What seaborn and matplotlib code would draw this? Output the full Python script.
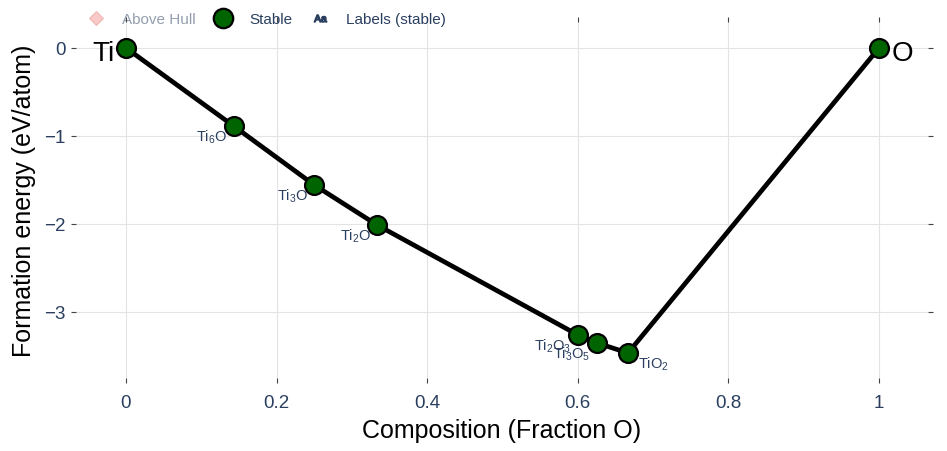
import numpy as np
import pandas as pd
import matplotlib
matplotlib.use("Agg")
import matplotlib.pyplot as plt
import seaborn as sns
from matplotlib.lines import Line2D

# Convex hull points (Ti-O)
frac_o = [0.0, 1 / 7, 0.25, 1 / 3, 0.6, 0.625, 2 / 3, 1.0]
e_form = [0.0, -0.886, -1.557, -2.011, -3.26, -3.35, -3.466, 0.0]
names = ["Ti", "Ti$_6$O", "Ti$_3$O", "Ti$_2$O", "Ti$_2$O$_3$", "Ti$_3$O$_5$", "TiO$_2$", "O"]
# "Above Hull" trace is hidden (legend only)
above_x = []
above_y = []

x_ticks = [0, 0.2, 0.4, 0.6, 0.8, 1]
x_ticklabels = ["0", "0.2", "0.4", "0.6", "0.8", "1"]
y_ticks = [0, -1, -2, -3]
y_ticklabels = ["0", "\u22121", "\u22122", "\u22123"]

df = pd.DataFrame({"x": frac_o, "y": e_form, "name": names})

sns.set_theme(style="white")
plt.rcParams["font.family"] = ["Liberation Sans", "DejaVu Sans"]
plt.rcParams["mathtext.fontset"] = "custom"
plt.rcParams["mathtext.rm"] = "Liberation Sans"
plt.rcParams["mathtext.it"] = "Liberation Sans:italic"

tick_col = "#2a3f5f"
green = "#006400"

fig = plt.figure(figsize=(9.47, 4.52), dpi=100)
ax = fig.add_axes([76 / 947, 1 - 379 / 452, (928 - 76) / 947, (379 - 23) / 452])

ax.grid(True, color="#e3e3e3", linewidth=0.8)
ax.set_axisbelow(True)

sns.lineplot(data=df, x="x", y="y", sort=False, color="black", linewidth=3.4, ax=ax, zorder=3)
sns.scatterplot(data=df, x="x", y="y", color=green, edgecolor="black", linewidth=1.6,
                s=185, ax=ax, zorder=4, legend=False)

# compound labels
for i, row in df.iterrows():
    if row["name"] == "Ti":
        ax.annotate(row["name"], (row["x"], row["y"]), xytext=(-8, -3.5), textcoords="offset points",
                    ha="right", va="center", fontsize=20, color="black")
    elif row["name"] == "O":
        ax.annotate(row["name"], (row["x"], row["y"]), xytext=(9, -3.5), textcoords="offset points",
                    ha="left", va="center", fontsize=20, color="black")
    elif row["name"] == "TiO$_2$":
        ax.annotate(row["name"], (row["x"], row["y"]), xytext=(7, -1), textcoords="offset points",
                    ha="left", va="top", fontsize=10.5, color=tick_col)
    else:
        ax.annotate(row["name"], (row["x"], row["y"]), xytext=(-4.5, -1), textcoords="offset points",
                    ha="right", va="top", fontsize=10.5, color=tick_col)

ax.set_xlim(-0.0664, 1.0651)
ax.set_ylim(-3.75, 0.295)
ax.set_xticks(x_ticks)
ax.set_xticklabels(x_ticklabels)
ax.set_yticks(y_ticks)
ax.set_yticklabels(y_ticklabels)
ax.tick_params(axis="both", which="both", direction="out", length=3.6, width=0.8, color="#444444",
               labelcolor=tick_col, labelsize=13.5, top=True, right=True, bottom=True, left=True)
ax.tick_params(axis="x", pad=8)
ax.tick_params(axis="y", pad=4)
for s in ax.spines.values():
    s.set_visible(False)

ax.set_xlabel("Composition (Fraction O)", fontsize=18, color="black", labelpad=5)
ax.set_ylabel("Formation energy (eV/atom)", fontsize=18, color="black", labelpad=6)

# legend across the top
handles = [
    Line2D([], [], linestyle="none", marker="D", markersize=7, markerfacecolor="#f4a6a0",
           markeredgecolor="#e08a84", markeredgewidth=0.6, alpha=0.6),
    Line2D([], [], linestyle="none", marker="o", markersize=14, markerfacecolor=green,
           markeredgecolor="black", markeredgewidth=1.6),
    Line2D([], [], linestyle="none", marker="$\\mathrm{Aa}$", markersize=9, color=tick_col),
]
leg = fig.legend(handles, ["Above Hull", "Stable", "Labels (stable)"], ncol=3, frameon=False,
                 loc="upper left", bbox_to_anchor=(70 / 947, 0.995), fontsize=11,
                 handletextpad=0.7, columnspacing=0.8, borderaxespad=0.3)
texts = leg.get_texts()
texts[0].set_color(tick_col)
texts[0].set_alpha(0.5)
texts[1].set_color(tick_col)
texts[2].set_color(tick_col)

fig.savefig("out.png", dpi=100)
